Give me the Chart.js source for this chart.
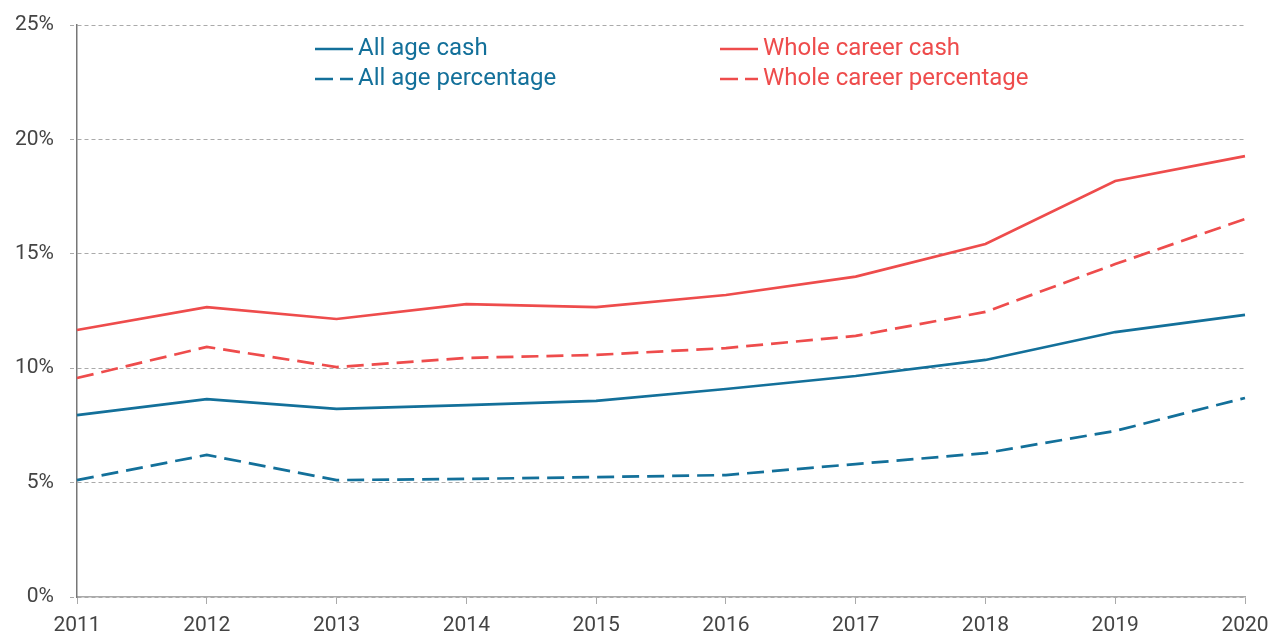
<!DOCTYPE html>
<html><head><meta charset="utf-8">
<script src="https://cdn.jsdelivr.net/npm/chart.js@4"></script>
<style>html,body{margin:0;padding:0;background:#fff}#wrap{width:1273px;height:636px;position:relative}</style>
</head><body><div id="wrap"><canvas id="c" width="1273" height="636"></canvas></div>
<script>
const years = ['2011','2012','2013','2014','2015','2016','2017','2018','2019','2020'];
const allAgeCash = [7.95, 8.65, 8.22, 8.39, 8.57, 9.09, 9.66, 10.36, 11.58, 12.33];
const allAgePct = [5.11, 6.21, 5.11, 5.16, 5.24, 5.33, 5.81, 6.29, 7.26, 8.70];
const wholeCareerCash = [11.67, 12.67, 12.15, 12.8, 12.67, 13.2, 14.0, 15.43, 18.18, 19.27];
const wholeCareerPct = [9.57, 10.93, 10.05, 10.45, 10.58, 10.88, 11.41, 12.46, 14.55, 16.52];
const yTicks = [0, 5, 10, 15, 20, 25];

const BLUE = '#13709a', RED = '#ee4c4c';
const FONT = "'Roboto', 'Liberation Sans', sans-serif";
const DASH = [17, 8];

const legendPlugin = {
  id: 'customLegend',
  afterDraw(chart) {
    const ctx = chart.ctx;
    const items = [
      {ds: 0, x: 315, y: 49}, {ds: 1, x: 315, y: 79},
      {ds: 2, x: 720, y: 49}, {ds: 3, x: 720, y: 79}
    ];
    ctx.save();
    ctx.font = '24px ' + FONT;
    ctx.textBaseline = 'middle';
    items.forEach(it => {
      const d = chart.data.datasets[it.ds];
      ctx.strokeStyle = d.borderColor;
      ctx.lineWidth = 2.5;
      ctx.beginPath();
      if (d.borderDash && d.borderDash.length) {
        ctx.moveTo(it.x, it.y); ctx.lineTo(it.x + 18, it.y);
        ctx.moveTo(it.x + 25, it.y); ctx.lineTo(it.x + 38, it.y);
      } else {
        ctx.moveTo(it.x, it.y); ctx.lineTo(it.x + 38, it.y);
      }
      ctx.stroke();
      ctx.fillStyle = d.borderColor;
      ctx.textAlign = 'left';
      ctx.fillText(d.label, it.x + 43, it.y);
    });
    ctx.restore();
  }
};

function ds(label, data, color, dashed) {
  return {label, data, borderColor: color, backgroundColor: color, borderWidth: 2.7,
    borderDash: dashed ? DASH : [], pointRadius: 0, tension: 0, fill: false};
}

new Chart(document.getElementById('c'), {
  type: 'line',
  data: {
    labels: years,
    datasets: [
      ds('All age cash', allAgeCash, BLUE, false),
      ds('All age percentage', allAgePct, BLUE, true),
      ds('Whole career cash', wholeCareerCash, RED, false),
      ds('Whole career percentage', wholeCareerPct, RED, true)
    ]
  },
  options: {
    responsive: false,
    animation: false,
    layout: {padding: {left: 0, right: 28, top: 25, bottom: 0}},
    plugins: {legend: {display: false}, tooltip: {enabled: false}},
    scales: {
      x: {
        offset: false,
        afterFit(axis) { axis.height = 39; axis.paddingRight = 0; axis.paddingLeft = 0; },
        grid: {drawOnChartArea: false, drawTicks: true, tickLength: 7, color: '#aaa'},
        border: {display: true, color: '#aaa', width: 1.5},
        ticks: {color: '#444', font: {family: FONT, size: 21}, padding: 9, maxRotation: 0, autoSkip: false}
      },
      y: {
        min: 0, max: 25,
        afterBuildTicks(axis) { axis.ticks = yTicks.map(v => ({value: v})); },
        afterFit(axis) { axis.width = 77; axis.paddingTop = 0; axis.paddingBottom = 0; },
        grid: {color: '#aaa', lineWidth: 1, tickLength: 7, drawTicks: true, tickBorderDash: [4, 3]},
        border: {display: true, color: '#777', width: 1.5, dash: [4, 3]},
        ticks: {color: '#444', font: {family: FONT, size: 21, lineHeight: 1}, padding: 16, callback: v => v + '%'}
      }
    }
  },
  plugins: [legendPlugin]
});
</script></body></html>
